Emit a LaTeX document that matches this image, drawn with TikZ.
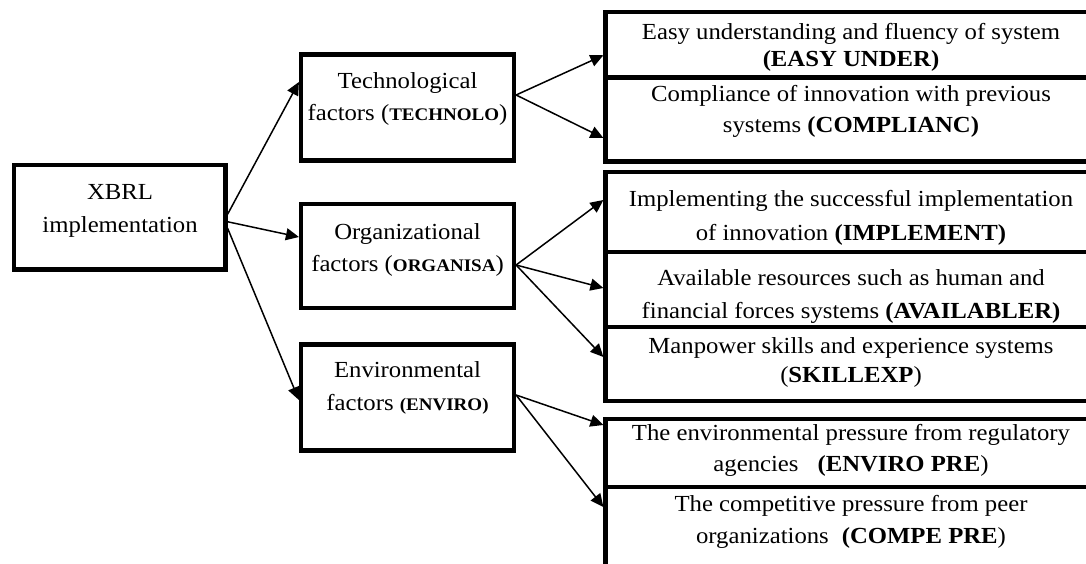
\documentclass[tikz,border=0pt]{standalone}
\usepackage{fontspec}
\setmainfont{Liberation Serif}[FakeStretch=1.075]
\usetikzlibrary{arrows.meta,calc}
\tikzset{
  box/.style={draw, line width=4.2pt, rectangle, inner sep=0pt},
  txt/.style={font=\fontsize{23}{#1}\selectfont, align=center, anchor=base, inner sep=0pt},
  conn/.style={line width=1.5pt, -{Triangle[length=13pt,width=12pt]}},
}
\newcommand{\smb}[1]{{\fontsize{17.7}{20}\selectfont\bfseries #1}}
\begin{document}
\begin{tikzpicture}[x=1pt,y=-1pt]
\useasboundingbox (0,0) rectangle (1086,563);
\clip (0,0) rectangle (1086,563);
% left column
\node[box, minimum width=211.5pt, minimum height=104.5pt] (xbrl) at (119.75,217.25) {};
\node[box, minimum width=213pt, minimum height=106pt] (tech) at (407.5,107.5) {};
\node[box, minimum width=213pt, minimum height=104pt] (org) at (407.5,256) {};
\node[box, minimum width=213pt, minimum height=106pt] (env) at (407.5,397.5) {};
% right column
\node[box, minimum width=491.5pt, minimum height=65.5pt] (ra) at (851.25,44.75) {};
\node[box, minimum width=491.5pt, minimum height=84pt] (rb) at (851.25,119.5) {};
\node[box, minimum width=491.5pt, minimum height=80pt] (rc) at (851.25,212) {};
\node[box, minimum width=491.5pt, minimum height=75pt] (rd) at (851.25,289.5) {};
\node[box, minimum width=491.5pt, minimum height=74pt] (re) at (851.25,364) {};
\node[box, minimum width=491.5pt, minimum height=68pt] (rf) at (851.25,453) {};
\node[box, minimum width=491.5pt, minimum height=88pt] (rg) at (851.25,531) {};
% texts (anchor = baseline of the last line)
\node[txt=33] (xbrlt) at (120,232) {XBRL\\implementation};
\node[txt=32.4] (techt) at (407.5,120.7) {Technological\\factors (\smb{TECHNOLO})};
\node[txt=32.4] (orgt) at (407.5,271.7) {Organizational\\factors (\smb{ORGANISA})};
\node[txt=33] (envt) at (407.5,410) {Environmental\\factors \smb{(ENVIRO)}};
\node[txt=27.4] (rat) at (851,66.7) {Easy understanding and fluency of system\\\textbf{(EASY UNDER)}};
\node[txt=31] (rbt) at (851,132.7) {Compliance of innovation with previous\\systems \textbf{(COMPLIANC)}};
\node[txt=33.3] (rct) at (851,240) {Implementing the successful implementation\\of innovation \textbf{(IMPLEMENT)}};
\node[txt=33] (rdt) at (851,318) {Available resources such as human and\\financial forces systems \textbf{(AVAILABLER)}};
\node[txt=29.7] (ret) at (851,382.7) {Manpower skills and experience systems\\(\textbf{SKILLEXP})};
\node[txt=31.7] (rft) at (851,471.7) {The environmental pressure from regulatory\\agencies\hspace{19pt}\textbf{(ENVIRO PRE})};
\node[txt=31.3] (rgt) at (851,543) {The competitive pressure from peer\\organizations\hspace{13pt}\textbf{(COMPE PRE})};
% connectors
\draw[conn] ($(xbrl.east)+(0,-3)$) -- ($(tech.west)+(0,-25.5)$);
\draw[conn] ($(xbrl.east)+(0,4.5)$) -- ($(org.west)+(0,-19)$);
\draw[conn] ($(xbrl.east)+(0,11)$) -- ($(env.west)+(0,2.5)$);
\draw[conn] ($(tech.east)+(0,-12.5)$) -- ($(ra.west)+(0,10.5)$);
\draw[conn] ($(tech.east)+(0,-12.5)$) -- ($(rb.west)+(0,18.5)$);
\draw[conn] ($(org.east)+(0,9)$) -- ($(rc.west)+(0,-12)$);
\draw[conn] ($(org.east)+(0,9)$) -- ($(rd.west)+(0,-1.5)$);
\draw[conn] ($(org.east)+(0,9)$) -- ($(re.west)+(0,-7)$);
\draw[conn] ($(env.east)+(0,-2.5)$) -- ($(rf.west)+(0,-28)$);
\draw[conn] ($(env.east)+(0,-2.5)$) -- ($(rg.west)+(0,-24)$);
\end{tikzpicture}
\end{document}
